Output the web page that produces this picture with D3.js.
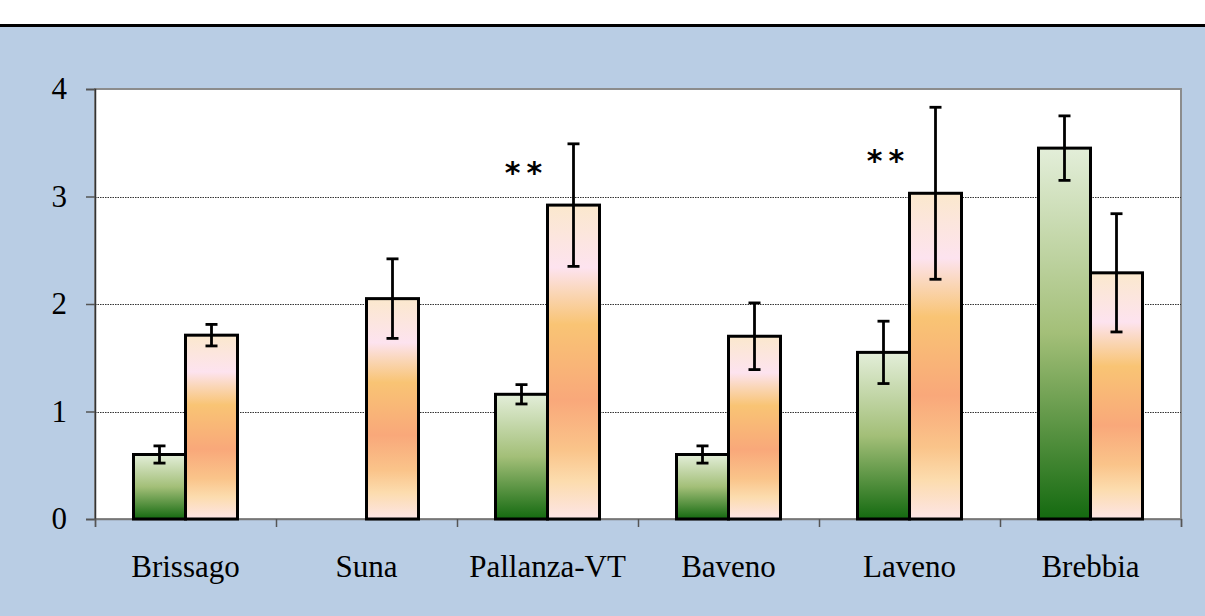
<!DOCTYPE html>
<html>
<head>
<meta charset="utf-8">
<script src="https://cdn.jsdelivr.net/npm/d3@7/dist/d3.min.js"></script>
<style>
  html, body { margin: 0; padding: 0; background: #ffffff; }
  svg { display: block; }
</style>
</head>
<body>
<script>
// Site names along the x axis
const sites = ["Brissago", "Suna", "Pallanza-VT", "Baveno", "Laveno", "Brebbia"];
// First series (green bars) and its error half-widths
const greenValues = [0.6, 0, 1.16, 0.6, 1.55, 3.45];
const greenErrors = [0.08, 0, 0.09, 0.08, 0.29, 0.3];
// Second series (orange bars) and its error half-widths
const orangeValues = [1.71, 2.05, 2.92, 1.7, 3.03, 2.29];
const orangeErrors = [0.1, 0.37, 0.57, 0.31, 0.8, 0.55];
// Significance marks for each site
const marks = [null, null, "**", null, "**", null];
// Y axis ticks
const yTicks = [0, 1, 2, 3, 4];

const W = 1205, H = 616;
const margin = { left: 95, right: 24, top: 89, bottom: 97 };
const plotW = W - margin.left - margin.right;
const plotH = H - margin.top - margin.bottom;
const serif = "'Liberation Serif', 'Times New Roman', Times, serif";

const svg = d3.select("body").append("svg")
  .attr("width", W).attr("height", H);

const defs = svg.append("defs");
const gGreen = defs.append("linearGradient").attr("id", "gradGreen")
  .attr("x1", 0).attr("y1", 0).attr("x2", 0).attr("y2", 1);
[[0, "#e3eed9"], [0.5, "#a3bf78"], [1, "#146a10"]].forEach(([o, c]) =>
  gGreen.append("stop").attr("offset", o).attr("stop-color", c));

const gOrange = defs.append("linearGradient").attr("id", "gradOrange")
  .attr("x1", 0).attr("y1", 0).attr("x2", 0).attr("y2", 1);
[[0, "#fbe8cd"], [0.2, "#fde3ef"], [0.28, "#fad6b6"], [0.38, "#f9c474"],
 [0.62, "#f9a87a"], [0.78, "#fac48a"], [0.88, "#fcdcae"], [1, "#fde5e6"]]
  .forEach(([o, c]) => gOrange.append("stop").attr("offset", o).attr("stop-color", c));

// Background: white strip, black rule, blue panel
svg.append("rect").attr("x", 0).attr("y", 0).attr("width", W).attr("height", H).attr("fill", "#ffffff");
svg.append("rect").attr("x", 0).attr("y", 26).attr("width", W).attr("height", H - 26).attr("fill", "#b9cde4");
svg.append("line").attr("x1", 0).attr("x2", W).attr("y1", 25.5).attr("y2", 25.5)
  .attr("stroke", "#000").attr("stroke-width", 3);

const g = svg.append("g").attr("transform", `translate(${margin.left},${margin.top})`);

const x = d3.scaleBand().domain(sites).range([0, plotW]).paddingInner(0).paddingOuter(0);
const y = d3.scaleLinear().domain([0, 4]).range([plotH, 0]);
const sub = d3.scaleBand().domain(["green", "orange"]).range([0, 104]);
const groupOffset = (x.bandwidth() - 104) / 2;

// Plot area
g.append("rect").attr("x", 0).attr("y", 0).attr("width", plotW).attr("height", plotH)
  .attr("fill", "#ffffff").attr("stroke", "#8c8c8c").attr("stroke-width", 2);

// Gridlines
g.append("g").selectAll("line").data(yTicks.filter(t => t > 0 && t < 4)).join("line")
  .attr("x1", 0).attr("x2", plotW)
  .attr("y1", d => Math.round(y(d)) + 0.5).attr("y2", d => Math.round(y(d)) + 0.5)
  .attr("stroke", "#333").attr("stroke-width", 1).attr("stroke-dasharray", "1.5,1");

// Axes
const yAxis = g.append("g").call(d3.axisLeft(y).tickValues(yTicks).tickSize(9).tickPadding(19).tickFormat(d3.format("d")));
yAxis.select(".domain").attr("stroke", "#333").attr("stroke-width", 1.5);
yAxis.selectAll(".tick line").attr("stroke", "#555").attr("stroke-width", 1.5);
yAxis.selectAll("text").style("font-family", serif)
  .style("font-size", "31px").attr("fill", "#000");

const xAxis = g.append("g").attr("transform", `translate(0,${plotH})`)
  .call(d3.axisBottom(d3.scaleLinear().domain([0, sites.length]).range([0, plotW]))
    .tickValues(d3.range(sites.length + 1)).tickSize(8).tickFormat(""));
xAxis.select(".domain").attr("stroke", "#777").attr("stroke-width", 1.5);
xAxis.selectAll(".tick line").attr("stroke", "#555").attr("stroke-width", 1.5);

g.append("g").selectAll("text").data(sites).join("text")
  .attr("x", d => x(d) + x.bandwidth() / 2).attr("y", plotH + 58)
  .attr("text-anchor", "middle")
  .style("font-family", serif)
  .style("font-size", "31px").attr("fill", "#000").text(d => d);

// Bars
const rows = sites.map((s, i) => [
  { site: s, key: "green", v: greenValues[i], e: greenErrors[i] },
  { site: s, key: "orange", v: orangeValues[i], e: orangeErrors[i] }
]).flat();

const bars = rows.filter(d => d.v > 0);
g.append("g").selectAll("rect").data(bars).join("rect")
  .attr("x", d => x(d.site) + groupOffset + sub(d.key))
  .attr("width", sub.bandwidth())
  .attr("y", d => y(d.v))
  .attr("height", d => y(0) - y(d.v))
  .attr("fill", d => d.key === "green" ? "url(#gradGreen)" : "url(#gradOrange)")
  .attr("stroke", "#000").attr("stroke-width", 3);

// Error bars
const eb = g.append("g").attr("stroke", "#000").attr("stroke-width", 2.8);
bars.forEach(d => {
  const cx = x(d.site) + groupOffset + sub(d.key) + sub.bandwidth() / 2;
  const y1 = y(d.v + d.e), y2 = y(d.v - d.e);
  eb.append("line").attr("x1", cx).attr("x2", cx).attr("y1", y1).attr("y2", y2);
  eb.append("line").attr("x1", cx - 6).attr("x2", cx + 6).attr("y1", y1).attr("y2", y1);
  eb.append("line").attr("x1", cx - 6).attr("x2", cx + 6).attr("y1", y2).attr("y2", y2);
});

// Significance marks, set above the green bar, level with the top of the orange bar
g.append("g").selectAll("text").data(sites.map((s, i) => ({ s, m: marks[i], i })).filter(d => d.m))
  .join("text")
  .attr("x", d => x(d.s) + groupOffset + sub("green") + sub.bandwidth() / 2 + 5)
  .attr("y", d => y(orangeValues[d.i]) - 22)
  .attr("text-anchor", "middle")
  .style("font-family", "'DejaVu Sans', sans-serif")
  .style("font-weight", "bold")
  .style("font-size", "30px").style("letter-spacing", "6px").attr("fill", "#000").text(d => d.m);
</script>
</body>
</html>
